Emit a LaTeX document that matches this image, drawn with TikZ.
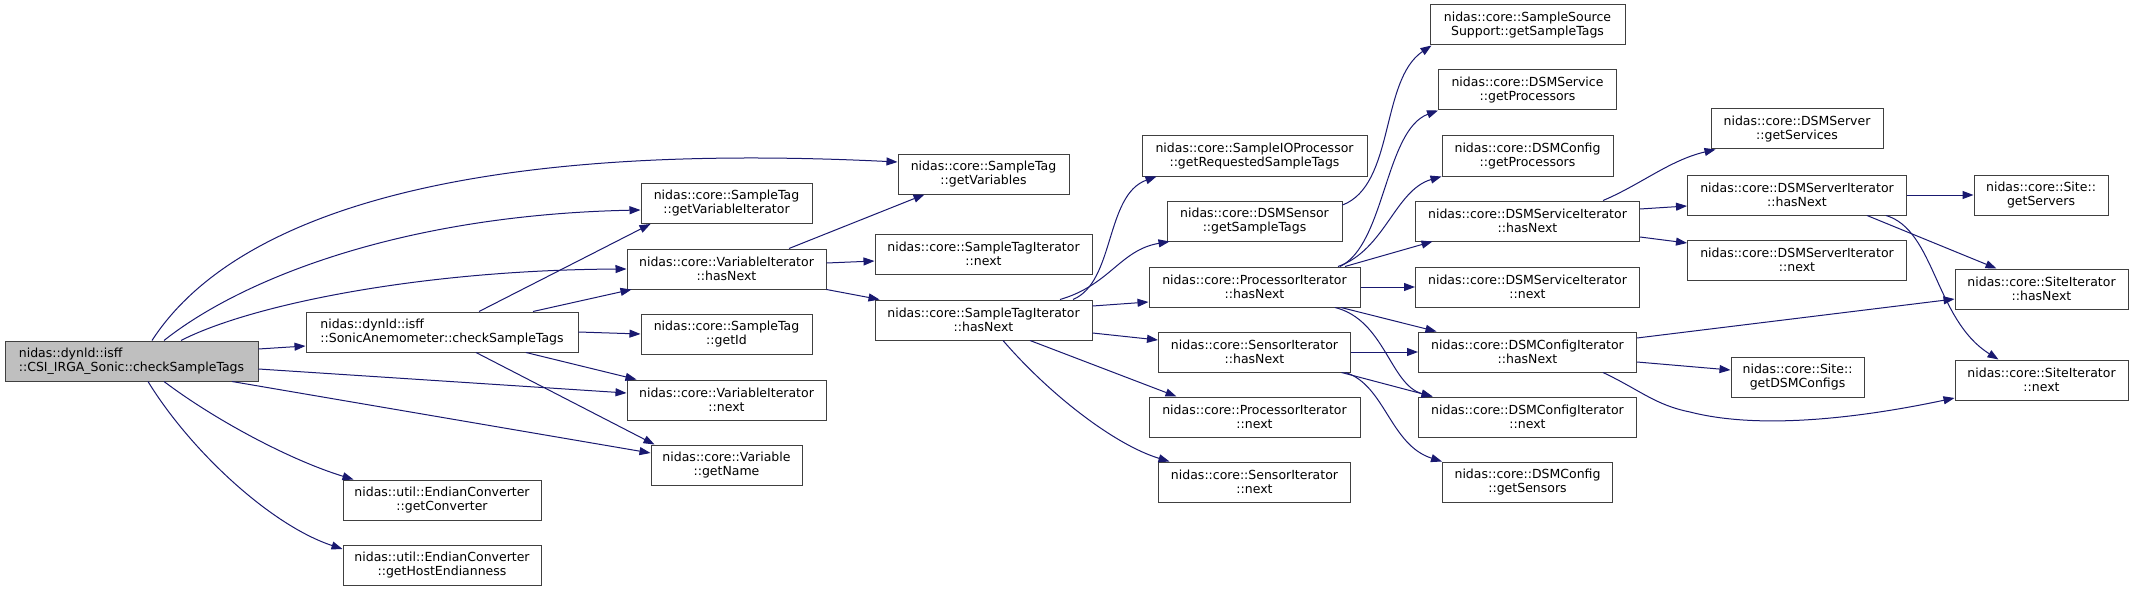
\documentclass[tikz,border=0pt]{standalone}
\usepackage{fontspec}
\usepackage{xcolor}
\usetikzlibrary{arrows.meta}
\newfontfamily\grafo{DejaVu Sans}
\definecolor{azulnoche}{HTML}{191970}
\definecolor{grisborde}{HTML}{404040}
\definecolor{grisraiz}{HTML}{BFBFBF}
\tikzset{
  every picture/.style={>={Triangle[length=11pt,width=8pt]}},
  nodo/.style={draw=grisborde, fill=white, line width=1pt, minimum height=40pt, inner sep=0pt,
               font=\grafo\fontsize{12.5}{14}\selectfont, align=center},
  raiz/.style={nodo, fill=grisraiz, align=left},
  flecha/.style={->, draw=azulnoche, line width=1pt},
}

\begin{document}
\begin{tikzpicture}[x=1pt, y=-1pt]
  \fill[white] (0,0) rectangle (2133,591);
  \useasboundingbox (0,0) rectangle (2133,591);

  \node[raiz, minimum width=253pt] (root) at (131.5,361) {nidas::dynld::isff\\::CSI\_IRGA\_Sonic::checkSampleTags};
  \node[nodo, align=left, minimum width=272pt] (son) at (442,332) {nidas::dynld::isff\\::SonicAnemometer::checkSampleTags};
  \foreach \n/\x/\y/\w/\txt in {
    gvi/726.5/203.5/171/{nidas::core::SampleTag\\::getVariableIterator},
    vih/726.5/269/199/{nidas::core::VariableIterator\\::hasNext},
    gid/726.5/334/171/{nidas::core::SampleTag\\::getId},
    vin/726.5/400/199/{nidas::core::VariableIterator\\::next},
    gnm/726.5/465/151/{nidas::core::Variable\\::getName},
    gcv/442/500/198/{nidas::util::EndianConverter\\::getConverter},
    ghe/442/565/198/{nidas::util::EndianConverter\\::getHostEndianness},
    gvs/983.5/174/171/{nidas::core::SampleTag\\::getVariables},
    tagn/983.5/254/217/{nidas::core::SampleTagIterator\\::next},
    tagh/983.5/320/217/{nidas::core::SampleTagIterator\\::hasNext},
    sio/1254.5/156/225/{nidas::core::SampleIOProcessor\\::getRequestedSampleTags},
    dss/1254.5/221/175/{nidas::core::DSMSensor\\::getSampleTags},
    pih/1254.5/287/211/{nidas::core::ProcessorIterator\\::hasNext},
    sih/1254.5/352/192/{nidas::core::SensorIterator\\::hasNext},
    pin/1254.5/417/211/{nidas::core::ProcessorIterator\\::next},
    sin/1254.5/482/192/{nidas::core::SensorIterator\\::next},
    sss/1527.5/25/195/{nidas::core::SampleSource\\Support::getSampleTags},
    dsp/1527.5/90/178/{nidas::core::DSMService\\::getProcessors},
    dcp/1527.5/156/171/{nidas::core::DSMConfig\\::getProcessors},
    dvh/1527.5/221/224/{nidas::core::DSMServiceIterator\\::hasNext},
    dvn/1527.5/287/224/{nidas::core::DSMServiceIterator\\::next},
    dch/1527.5/352/218/{nidas::core::DSMConfigIterator\\::hasNext},
    dcn/1527.5/417/218/{nidas::core::DSMConfigIterator\\::next},
    dcs/1527.5/482/170/{nidas::core::DSMConfig\\::getSensors},
    dsv/1797/129/172/{nidas::core::DSMServer\\::getServices},
    drh/1797/195/219/{nidas::core::DSMServerIterator\\::hasNext},
    drn/1797/260/219/{nidas::core::DSMServerIterator\\::next},
    sdc/1797.5/377/133/{nidas::core::Site::\\getDSMConfigs},
    sgs/2041/195/134/{nidas::core::Site::\\getServers},
    sith/2041.5/289/173/{nidas::core::SiteIterator\\::hasNext},
    sitn/2041.5/380/173/{nidas::core::SiteIterator\\::next}} {
    \node[nodo, minimum width=\w pt] (\n) at (\x,\y) {\txt};
  }

  % llamadas desde la raiz
  \draw[flecha] ([xshift=20.5]root.north) .. controls (230,220) and (450,140) .. ([yshift=12]gvs.west);
  \draw[flecha] ([xshift=32.5]root.north) .. controls (240,280) and (400,215) .. ([yshift=-6.5]gvi.west);
  \draw[flecha] ([xshift=49.5]root.north) .. controls (250,305) and (420,270) .. (vih.west);
  \draw[flecha] ([yshift=12]root.east) -- ([yshift=-14]son.west);
  \draw[flecha] ([yshift=-8]root.east) -- ([yshift=7]vin.west);
  \draw[flecha] ([xshift=100.5]root.south) -- ([yshift=12]gnm.west);
  \draw[flecha] ([xshift=32.5]root.south) .. controls (215,420) and (290,460) .. ([xshift=11]gcv.north west);
  \draw[flecha] ([xshift=16.5]root.south) .. controls (190,450) and (270,525) .. ([yshift=16]ghe.west);

  % SonicAnemometer
  \draw[flecha] ([xshift=37]son.north) -- ([xshift=10]gvi.south west);
  \draw[flecha] ([xshift=91]son.north) -- ([xshift=5]vih.south west);
  \draw[flecha] (son.east) -- (gid.west);
  \draw[flecha] ([xshift=84]son.south) -- ([xshift=10]vin.north west);
  \draw[flecha] ([xshift=34]son.south) -- ([xshift=4]gnm.north west);

  % VariableIterator
  \draw[flecha] ([xshift=62.5]vih.north) -- ([xshift=27]gvs.south west);
  \draw[flecha] ([yshift=6]vih.east) -- ([yshift=-7]tagn.west);
  \draw[flecha] (vih.south east) -- ([xshift=5]tagh.north west);

  % SampleTagIterator
  \draw[flecha] ([xshift=89.5]tagh.north) .. controls (1115,282) and (1105,195) .. ([xshift=15]sio.south west);
  \draw[flecha] ([xshift=76.5]tagh.north) .. controls (1110,285) and (1120,250) .. ([xshift=3]dss.south west);
  \draw[flecha] ([yshift=14]tagh.east) -- ([yshift=-15]pih.west);
  \draw[flecha] ([yshift=-13]tagh.east) -- ([yshift=12]sih.west);
  \draw[flecha] ([xshift=46.5]tagh.south) -- ([xshift=28]pin.north west);
  \draw[flecha] ([xshift=19.5]tagh.south) .. controls (1050,395) and (1115,445) .. ([xshift=11.5]sin.north west);
  \draw[flecha] ([yshift=16]dss.east) .. controls (1395,185) and (1380,80) .. ([xshift=2]sss.south west);

  % ProcessorIterator y SensorIterator
  \draw[flecha] ([xshift=85.5]pih.north) .. controls (1385,245) and (1385,130) .. (dsp.south west);
  \draw[flecha] ([xshift=83.5]pih.north) .. controls (1385,250) and (1395,190) .. (dcp.south west);
  \draw[flecha] ([xshift=90.5]pih.north) -- ([xshift=17.5]dvh.south west);
  \draw[flecha] (pih.east) -- (dvn.west);
  \draw[flecha] ([xshift=86.5]pih.south) -- ([xshift=18.5]dch.north west);
  \draw[flecha] ([xshift=80.5]pih.south) .. controls (1385,320) and (1390,385) .. ([xshift=14.5]dcn.north west);
  \draw[flecha] (sih.east) -- (dch.west);
  \draw[flecha] ([xshift=-9.5]sih.south east) -- ([xshift=14.5]dcn.north west);
  \draw[flecha] ([xshift=-5.5]sih.south east) .. controls (1385,385) and (1390,445) .. (dcs.north west);

  % DSMServiceIterator, DSMServerIterator, DSMConfigIterator
  \draw[flecha] ([xshift=75.5]dvh.north) .. controls (1640,185) and (1670,160) .. ([xshift=5]dsv.south west);
  \draw[flecha] ([yshift=12]dvh.east) -- ([yshift=-11]drh.west);
  \draw[flecha] ([yshift=-16]dvh.east) -- ([yshift=17]drn.west);
  \draw[flecha] (drh.east) -- (sgs.west);
  \draw[flecha] ([xshift=70]drh.south) -- ([xshift=42]sith.north west);
  \draw[flecha] ([xshift=89]drh.south) .. controls (1935,230) and (1935,320) .. ([xshift=44]sitn.north west);
  \draw[flecha] ([yshift=14]dch.east) -- ([yshift=-10]sith.west);
  \draw[flecha] ([yshift=-10]dch.east) -- ([yshift=7]sdc.west);
  \draw[flecha] ([xshift=75.5]dch.south) .. controls (1640,390) and (1655,405) .. (1690,412)
                .. controls (1760,430) and (1860,418) .. ([yshift=-18]sitn.west);
\end{tikzpicture}
\end{document}
